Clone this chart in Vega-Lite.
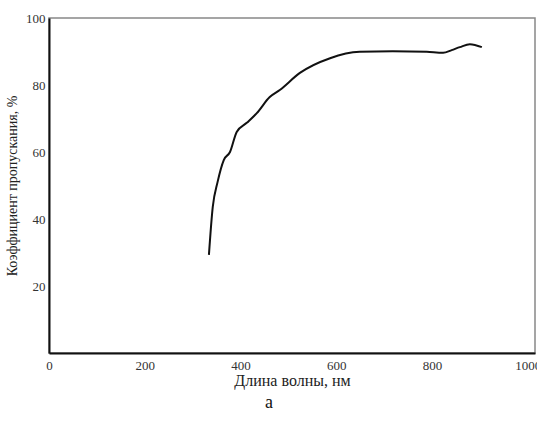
{
  "$schema": "https://vega.github.io/schema/vega-lite/v6.json",
  "width": 486,
  "height": 335,
  "autosize": {"type": "none"},
  "padding": {"left": 49, "top": 18, "right": 2, "bottom": 69},
  "background": "white",
  "title": {"text": "а", "orient": "bottom", "font": "Liberation Serif", "fontSize": 18, "fontWeight": "normal", "color": "#111", "offset": 6, "anchor": "middle", "dx": -23},
  "config": {
    "view": {"stroke": "#888", "strokeWidth": 1.5},
    "axis": {"grid": false, "labelFont": "Liberation Serif", "titleFont": "Liberation Serif", "labelColor": "#333", "titleColor": "#222", "labelFontSize": 13, "titleFontWeight": "normal", "domainColor": "#111", "domainWidth": 2, "ticks": false}
  },
  "data": {"values": [
    {"wl": 334, "t": 29.3},
    {"wl": 342, "t": 43.6},
    {"wl": 352, "t": 51},
    {"wl": 365, "t": 57.6},
    {"wl": 378, "t": 60},
    {"wl": 392, "t": 66},
    {"wl": 413, "t": 68.7},
    {"wl": 434, "t": 71.6},
    {"wl": 461, "t": 76.4},
    {"wl": 482, "t": 78.5},
    {"wl": 524, "t": 83.6},
    {"wl": 587, "t": 88},
    {"wl": 649, "t": 89.9},
    {"wl": 718, "t": 90.1},
    {"wl": 789, "t": 89.9},
    {"wl": 823, "t": 89.6},
    {"wl": 841, "t": 90.4},
    {"wl": 858, "t": 91.3},
    {"wl": 879, "t": 92.2},
    {"wl": 904, "t": 91.3}
  ]},
  "mark": {"type": "line", "color": "#111", "strokeWidth": 2, "interpolate": "monotone"},
  "encoding": {
    "x": {"field": "wl", "type": "quantitative", "scale": {"domain": [0, 1015], "nice": false}, "axis": {"values": [0, 200, 400, 600, 800, 1000], "format": "d", "title": "Длина волны, нм", "titleFontSize": 16, "labelPadding": 6, "titlePadding": 0, "labelFlush": false}},
    "y": {"field": "t", "type": "quantitative", "scale": {"domain": [0, 100], "nice": false}, "axis": {"values": [20, 40, 60, 80, 100], "title": "Коэффициент пропускания, %", "titleFontSize": 14, "labelPadding": 4, "titlePadding": 6}}
  }
}
